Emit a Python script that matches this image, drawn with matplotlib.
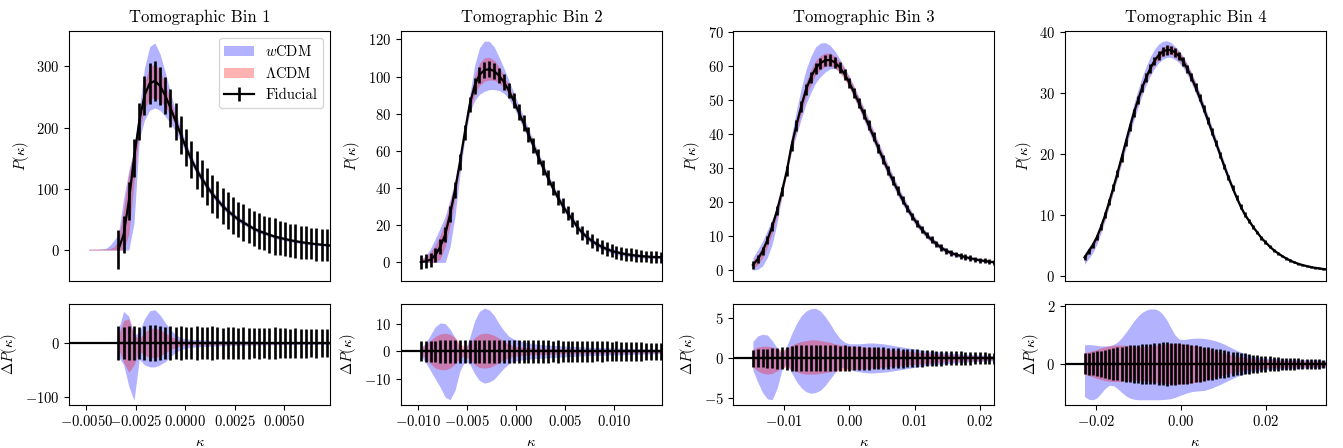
import numpy as np
import matplotlib
matplotlib.use("Agg")
import matplotlib.pyplot as plt

plt.rcParams["font.family"] = "serif"
plt.rcParams["font.serif"] = ["cmr10"]
plt.rcParams["mathtext.fontset"] = "cm"
plt.rcParams["axes.formatter.use_mathtext"] = True

# ---- Tomographic bin 1 ----
k1 = np.linspace(-0.00338, 0.007403, 42)
pfid1 = [1, 25, 80, 150, 210, 252, 272, 276, 268, 252,
         232, 210, 188, 167, 148, 131, 117, 104, 92, 82,
         72, 64, 57, 50, 45, 40, 35, 31, 28, 25,
         22, 20, 18, 16, 14.5, 13, 11.8, 10.7, 9.7, 8.8,
         8.0, 7.3]
err1 = [32, 30, 31, 31, 30, 32, 33, 33, 31, 30,
        31, 30, 31, 30, 30, 31, 30, 30, 31, 30,
        29, 30, 30, 29, 30, 29, 28, 29, 28, 29,
        30, 28, 28, 27, 28, 27, 27, 26, 27, 26,
        26, 26]
whi1 = [25, 59, 50, 15, 20, 45, 60, 62, 52, 38,
        25, 16, 10, 8, 7, 6.5, 6, 5.5, 5.2, 5,
        4.8, 4.6, 4.4, 4.2, 4, 3.8, 3.6, 3.4, 3.2, 3.0,
        2.9, 2.8, 2.7, 2.6, 2.5, 2.4, 2.3, 2.2, 2.1, 2.0,
        1.9, 1.8]
wlo1 = [-25, -40, -80, -106, -30, -40, -44, -44, -40, -34,
        -25, -17, -12, -9, -8, -7, -6.5, -6, -5.6, -5.2,
        -4.9, -4.6, -4.4, -4.2, -4.0, -3.8, -3.6, -3.4, -3.2, -3.0,
        -2.9, -2.8, -2.7, -2.6, -2.5, -2.4, -2.3, -2.2, -2.1, -2.0,
        -1.9, -1.8]
lhi1 = [15, 42, 45, 15, 8, 20, 27, 28, 25, 19,
        13, 8, 5, 4, 3.5, 3.2, 3.0, 2.8, 2.6, 2.5,
        2.4, 2.3, 2.2, 2.1, 2.0, 1.9, 1.8, 1.7, 1.6, 1.5,
        1.45, 1.4, 1.35, 1.3, 1.25, 1.2, 1.15, 1.1, 1.05, 1.0,
        0.95, 0.9]
llo1 = [-10, -35, -54, -40, -15, -22, -26, -27, -24, -18,
        -12, -8, -5, -4, -3.5, -3.2, -3.0, -2.8, -2.6, -2.5,
        -2.4, -2.3, -2.2, -2.1, -2.0, -1.9, -1.8, -1.7, -1.6, -1.5,
        -1.45, -1.4, -1.35, -1.3, -1.25, -1.2, -1.15, -1.1, -1.05, -1.0,
        -0.95, -0.9]
# model curves reach further left than the measured bins
pad_k1 = [-0.00489, -0.00455, -0.00425, -0.00400, -0.00380, -0.00360]
pad_whi1 = [1.5, 1.5, 2, 3, 8, 16]
pad_lhi1 = [1.5, 1.5, 1.5, 1.5, 2.5, 5]

# ---- Tomographic bin 2 ----
k2 = np.linspace(-0.00975, 0.01475, 50)
pfid2 = [0.2, 0.6, 1.5, 4, 8.5, 15, 26, 39, 54, 70,
         85, 95, 101, 103.5, 104, 103, 100.5, 97, 92.5, 87,
         81, 75, 69, 63, 57, 51, 45.5, 40, 35, 30.5,
         26.5, 23, 19, 16, 13.5, 11.5, 9.8, 8.4, 7.2, 6.2,
         5.5, 4.9, 4.4, 4.0, 3.7, 3.4, 3.2, 3.0, 2.9, 2.8]
err2 = [3.6, 3.7, 3.8, 3.9, 4.0, 4.0, 4.1, 4.1, 4.2, 4.2,
        4.1, 4.3, 4.2, 4.3, 4.2, 4.1, 4.2, 4.3, 4.2, 4.1,
        4.2, 4.1, 4.0, 4.1, 4.0, 4.2, 4.0, 3.9, 4.0, 3.9,
        3.8, 3.9, 3.8, 3.7, 3.8, 3.7, 3.6, 3.7, 3.6, 3.5,
        3.6, 3.5, 3.4, 3.5, 3.3, 3.4, 3.2, 3.2, 3.1, 3.0]
whi2 = [1.5, 3, 6, 9, 10.3, 10, 8, 5, 1.5, 0.5,
        5, 11, 14.5, 15.6, 15, 13, 10, 7.5, 5.5, 4.5,
        4, 3.5, 3.1, 2.8, 2.6, 2.4, 2.3, 2.2, 2.1, 2.0,
        1.9, 1.8, 1.7, 1.6, 1.55, 1.5, 1.45, 1.4, 1.35, 1.3,
        1.25, 1.2, 1.15, 1.1, 1.05, 1.0, 0.95, 0.9, 0.85, 0.8]
wlo2 = [-1.5, -4, -7, -10, -13, -16.5, -17.4, -14, -7, -3.5,
        -4.5, -8, -10.5, -11.4, -11, -10, -8, -6, -4.5, -3.6,
        -3.2, -3.0, -2.8, -2.6, -2.5, -2.4, -2.3, -2.2, -2.1, -2.0,
        -1.9, -1.8, -1.7, -1.6, -1.55, -1.5, -1.45, -1.4, -1.35, -1.3,
        -1.25, -1.2, -1.15, -1.1, -1.05, -1.0, -0.95, -0.9, -0.85, -0.8]
lhi2 = [1, 2.5, 4, 5.5, 6.3, 6.6, 6.2, 5, 3, 1.5,
        3, 5, 6.2, 6.6, 6.4, 5.8, 4.8, 3.6, 2.6, 2,
        1.6, 1.5, 1.4, 1.3, 1.2, 1.15, 1.1, 1.05, 1.0, 0.95,
        0.9, 0.85, 0.8, 0.78, 0.75, 0.72, 0.7, 0.68, 0.65, 0.62,
        0.6, 0.58, 0.56, 0.54, 0.52, 0.5, 0.48, 0.46, 0.44, 0.42]
llo2 = [-1, -2.5, -4.5, -6, -6.5, -6.6, -6, -4.5, -2.5, -1.5,
        -3, -4.8, -5.8, -6, -5.8, -5, -4, -3, -2.3, -1.8,
        -1.5, -1.4, -1.3, -1.2, -1.15, -1.1, -1.05, -1.0, -0.95, -0.9,
        -0.85, -0.8, -0.78, -0.75, -0.72, -0.7, -0.68, -0.65, -0.62, -0.6,
        -0.58, -0.56, -0.54, -0.52, -0.5, -0.48, -0.46, -0.44, -0.42, -0.4]

# ---- Tomographic bin 3 ----
k3 = np.linspace(-0.0148, 0.0222, 51)
pfid3 = [1.5, 3.2, 5.5, 8.8, 12.8, 17.5, 23, 29, 36.5, 42.5,
         48, 53, 56.5, 59.3, 60.8, 61.6, 61.7, 61, 59.5, 57.5,
         55, 52, 49, 45.8, 42.5, 39.2, 35.8, 32.5, 29.3, 26.3,
         23.4, 20.6, 18.1, 15.8, 13.7, 11.9, 10.3, 8.9, 7.7, 6.6,
         5.7, 5.1, 4.6, 4.2, 3.8, 3.5, 3.2, 2.9, 2.7, 2.5, 2.3]
err3 = [1.05, 1.1, 1.15, 1.2, 1.25, 1.3, 1.35, 1.45, 1.55, 1.6,
        1.6, 1.65, 1.6, 1.65, 1.6, 1.6, 1.65, 1.6, 1.55, 1.6,
        1.55, 1.5, 1.5, 1.45, 1.45, 1.4, 1.35, 1.35, 1.3, 1.25,
        1.25, 1.2, 1.15, 1.1, 1.1, 1.05, 1.0, 1.0, 0.95, 0.95,
        0.9, 0.9, 0.85, 0.85, 0.8, 0.8, 0.75, 0.75, 0.75, 0.7, 0.7]
whi3 = [2.1, 2.8, 3.0, 2.9, 2.2, 1.3, 0.5, 1.5, 3.0, 4.3,
        5.3, 5.9, 6.2, 6.25, 5.9, 5.2, 4.3, 3.3, 2.5, 2.0,
        1.8, 1.8, 1.8, 1.85, 1.9, 1.9, 1.85, 1.8, 1.7, 1.6,
        1.5, 1.4, 1.3, 1.2, 1.1, 1.0, 0.9, 0.85, 0.8, 0.75,
        0.7, 0.65, 0.6, 0.55, 0.5, 0.47, 0.44, 0.41, 0.38, 0.35, 0.33]
wlo3 = [-1.5, -3.0, -4.3, -5.1, -5.2, -3.8, -1.5, -0.6, -1.8, -2.9,
        -3.7, -4.2, -4.4, -4.3, -4.0, -3.4, -2.6, -1.8, -1.2, -1.2,
        -1.4, -1.6, -1.7, -1.8, -1.85, -1.85, -1.8, -1.75, -1.7, -1.6,
        -1.5, -1.4, -1.3, -1.2, -1.1, -1.0, -0.9, -0.85, -0.8, -0.75,
        -0.7, -0.65, -0.6, -0.55, -0.5, -0.47, -0.44, -0.41, -0.38, -0.35, -0.33]
lhi3 = [1.1, 1.4, 1.5, 1.5, 1.4, 1.2, 1.0, 1.2, 1.6, 1.9,
        2.1, 2.2, 2.3, 2.3, 2.2, 2.1, 2.0, 1.8, 1.7, 1.6,
        1.5, 1.5, 1.4, 1.4, 1.3, 1.3, 1.2, 1.2, 1.1, 1.0,
        1.0, 0.9, 0.85, 0.8, 0.75, 0.7, 0.65, 0.6, 0.55, 0.5,
        0.47, 0.44, 0.41, 0.38, 0.35, 0.33, 0.31, 0.29, 0.27, 0.25, 0.23]
llo3 = [-1.1, -1.6, -1.9, -2.0, -1.9, -1.6, -1.2, -1.1, -1.4, -1.7,
        -1.9, -2.0, -2.0, -2.0, -1.9, -1.8, -1.7, -1.6, -1.6, -1.5,
        -1.5, -1.4, -1.4, -1.3, -1.3, -1.2, -1.2, -1.1, -1.1, -1.0,
        -1.0, -0.9, -0.85, -0.8, -0.75, -0.7, -0.65, -0.6, -0.55, -0.5,
        -0.47, -0.44, -0.41, -0.38, -0.35, -0.33, -0.31, -0.29, -0.27, -0.25, -0.23]

# ---- Tomographic bin 4 ----
k4 = np.linspace(-0.0227, 0.03453, 60)
pfid4 = [3.0, 4.0, 5.0, 6.3, 8.0, 9.9, 12.1, 14.4, 16.8, 19.3,
         21.8, 24.3, 26.7, 28.8, 30.8, 32.5, 34.0, 35.2, 36.1, 36.7,
         37.0, 37.0, 36.6, 36.0, 35.1, 33.9, 32.5, 30.9, 29.2, 27.4,
         25.5, 23.6, 21.7, 19.8, 17.9, 16.1, 14.4, 12.8, 11.3, 10.0,
         9.0, 8.0, 7.1, 6.2, 5.5, 4.8, 4.2, 3.7, 3.25, 2.85,
         2.5, 2.2, 1.95, 1.75, 1.58, 1.43, 1.3, 1.2, 1.1, 1.02]
err4 = [0.36, 0.38, 0.40, 0.43, 0.46, 0.49, 0.52, 0.55, 0.57, 0.60,
        0.62, 0.64, 0.66, 0.67, 0.68, 0.69, 0.70, 0.71, 0.72, 0.74,
        0.76, 0.73, 0.72, 0.71, 0.70, 0.68, 0.66, 0.64, 0.62, 0.60,
        0.57, 0.55, 0.52, 0.50, 0.47, 0.45, 0.42, 0.40, 0.38, 0.36,
        0.34, 0.32, 0.30, 0.29, 0.27, 0.26, 0.25, 0.23, 0.22, 0.21,
        0.20, 0.20, 0.19, 0.18, 0.17, 0.17, 0.16, 0.16, 0.15, 0.15]
whi4 = [0.66, 0.67, 0.66, 0.64, 0.62, 0.62, 0.63, 0.67, 0.75, 0.90,
        1.08, 1.28, 1.48, 1.65, 1.78, 1.86, 1.90, 1.90, 1.85, 1.72,
        1.52, 1.25, 1.0, 0.86, 0.84, 0.86, 0.88, 0.89, 0.89, 0.88,
        0.86, 0.83, 0.79, 0.74, 0.68, 0.61, 0.54, 0.47, 0.41, 0.36,
        0.31, 0.27, 0.24, 0.22, 0.20, 0.19, 0.185, 0.18, 0.175, 0.17,
        0.165, 0.16, 0.155, 0.15, 0.145, 0.14, 0.14, 0.135, 0.13, 0.13]
wlo4 = [-1.13, -1.22, -1.24, -1.18, -1.02, -0.85, -0.74, -0.75, -0.85, -0.98,
        -1.10, -1.18, -1.22, -1.24, -1.24, -1.24, -1.24, -1.24, -1.24, -1.23,
        -1.22, -1.20, -1.16, -1.10, -1.05, -1.00, -0.96, -0.94, -0.93, -0.92,
        -0.88, -0.83, -0.77, -0.71, -0.64, -0.57, -0.50, -0.44, -0.39, -0.34,
        -0.30, -0.27, -0.24, -0.22, -0.20, -0.19, -0.185, -0.18, -0.175, -0.17,
        -0.165, -0.16, -0.155, -0.15, -0.145, -0.14, -0.14, -0.135, -0.13, -0.13]
lhi4 = [0.38, 0.42, 0.46, 0.50, 0.55, 0.59, 0.62, 0.64, 0.65, 0.65,
        0.64, 0.62, 0.60, 0.59, 0.59, 0.60, 0.62, 0.64, 0.66, 0.68,
        0.69, 0.70, 0.70, 0.70, 0.69, 0.67, 0.65, 0.62, 0.59, 0.56,
        0.52, 0.48, 0.44, 0.40, 0.36, 0.33, 0.30, 0.27, 0.24, 0.22,
        0.20, 0.18, 0.17, 0.16, 0.15, 0.14, 0.135, 0.13, 0.125, 0.12,
        0.115, 0.11, 0.105, 0.10, 0.10, 0.095, 0.095, 0.09, 0.09, 0.09]
llo4 = [-0.35, -0.40, -0.45, -0.50, -0.54, -0.58, -0.60, -0.61, -0.61, -0.60,
        -0.58, -0.57, -0.56, -0.56, -0.57, -0.59, -0.61, -0.63, -0.65, -0.67,
        -0.68, -0.69, -0.70, -0.70, -0.69, -0.68, -0.66, -0.63, -0.60, -0.57,
        -0.53, -0.49, -0.45, -0.41, -0.37, -0.33, -0.30, -0.27, -0.24, -0.22,
        -0.20, -0.18, -0.17, -0.16, -0.15, -0.14, -0.135, -0.13, -0.125, -0.12,
        -0.115, -0.11, -0.105, -0.10, -0.10, -0.095, -0.095, -0.09, -0.09, -0.09]

titles = ["Tomographic Bin 1", "Tomographic Bin 2", "Tomographic Bin 3", "Tomographic Bin 4"]
xticks = [[-0.005, -0.0025, 0.0, 0.0025, 0.005],
          [-0.01, -0.005, 0.0, 0.005, 0.01],
          [-0.01, 0.0, 0.01, 0.02],
          [-0.02, 0.0, 0.02]]
yticks_top = [[0, 100, 200, 300], [0, 20, 40, 60, 80, 100, 120],
              [0, 10, 20, 30, 40, 50, 60, 70], [0, 10, 20, 30, 40]]
yticks_bot = [[-100, 0], [-10, 0, 10], [-5, 0, 5], [0, 2]]
xlims = [(-0.00586, 0.00732), (-0.01177, 0.0149), (-0.0178, 0.0222), (-0.0273, 0.03426)]
ylims_top = [(-50.5, 358), (-10, 124.7), (-3.2, 70.3), (-0.87, 40.16)]
ylims_bot = [(-114, 72), (-19.2, 17), (-5.83, 6.75), (-1.41, 2.06)]


def draw_bin(ax, axr, k, pfid, err, whi, wlo, lhi, llo, pad=None):
    pfid = np.asarray(pfid)
    kt = np.asarray(k)
    w_up, w_dn = pfid + np.asarray(whi), np.clip(pfid + np.asarray(wlo), 0, None)
    l_up, l_dn = pfid + np.asarray(lhi), np.clip(pfid + np.asarray(llo), 0, None)
    if pad is not None:
        pk, pw, pl = pad
        kt = np.concatenate([pk, kt])
        w_up = np.concatenate([pw, w_up])
        w_dn = np.concatenate([np.zeros(len(pk)), w_dn])
        l_up = np.concatenate([pl, l_up])
        l_dn = np.concatenate([np.zeros(len(pk)), l_dn])

    ax.fill_between(kt, w_dn, w_up, color="blue", alpha=0.3, lw=0, label=r"$w$CDM")
    ax.fill_between(kt, l_dn, l_up, color="red", alpha=0.3, lw=0, label=r"$\Lambda$CDM")
    ax.errorbar(k, pfid, yerr=err, color="k", lw=1.6, elinewidth=1.9, label="Fiducial")

    axr.fill_between(k, wlo, whi, color="blue", alpha=0.3, lw=0)
    axr.fill_between(k, llo, lhi, color="red", alpha=0.3, lw=0)
    axr.axhline(0, color="k", lw=1.6)
    axr.errorbar(k, np.zeros(len(k)), yerr=err, color="k", lw=1.6, elinewidth=1.9)


fig = plt.figure(figsize=(13.43, 4.48), dpi=100)
W, H = 1343.0, 448.0
lefts = [69.3, 401.0, 733.3, 1065.0]
data = [(k1, pfid1, err1, whi1, wlo1, lhi1, llo1),
        (k2, pfid2, err2, whi2, wlo2, lhi2, llo2),
        (k3, pfid3, err3, whi3, wlo3, lhi3, llo3),
        (k4, pfid4, err4, whi4, wlo4, lhi4, llo4)]

for i in range(4):
    ax = fig.add_axes([lefts[i] / W, (H - 281.0) / H, 261.0 / W, 250.3 / H])
    axr = fig.add_axes([lefts[i] / W, (H - 404.7) / H, 261.0 / W, 100.4 / H])
    pad = (pad_k1, pad_whi1, pad_lhi1) if i == 0 else None
    draw_bin(ax, axr, *data[i], pad=pad)

    ax.set_title(titles[i], fontsize=12)
    ax.set_xlim(*xlims[i])
    axr.set_xlim(*xlims[i])
    ax.set_ylim(*ylims_top[i])
    axr.set_ylim(*ylims_bot[i])
    ax.set_yticks(yticks_top[i])
    axr.set_yticks(yticks_bot[i])
    axr.set_xticks(xticks[i])
    ax.tick_params(bottom=False, labelbottom=False, labelsize=10.5)
    axr.tick_params(labelsize=10.5)
    ax.set_ylabel(r"$P(\kappa)$", fontsize=10.5)
    axr.set_ylabel(r"$\Delta P(\kappa)$", fontsize=10.5)
    axr.set_xlabel(r"$\kappa$", fontsize=10.5)
    if i == 0:
        ax.legend(loc="upper right", fontsize=10.5)

fig.savefig("out.png", dpi=100)
